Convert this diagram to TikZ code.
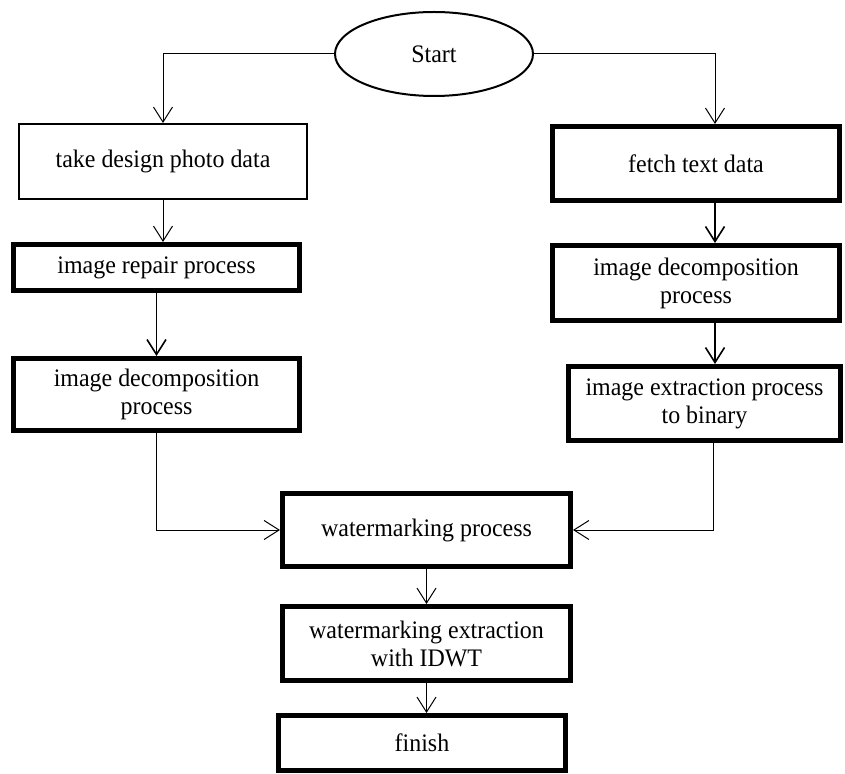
\documentclass[tikz,border=0pt]{standalone}
\usepackage{fontspec}
\setmainfont{Liberation Serif}[FakeStretch=0.95]
\usetikzlibrary{arrows.meta}
\usetikzlibrary{shapes.geometric}
\newcommand{\boxwd}{143.5pt}
\newcommand{\boxht}{37pt}
\newcommand{\thinrule}{0.5pt}
\newcommand{\midrule}{1pt}
\newcommand{\boldrule}{2.5pt}
\newcommand{\rightoff}{9.5pt}
\newcommand{\extoff}{4.5pt}
\newcommand{\flowfont}{\fontsize{12.6}{14}\selectfont}
\tikzset{
  flowbox/.style={draw, rectangle, minimum width=\boxwd, minimum height=\boxht,
    inner sep=0pt, align=center, font=\flowfont},
  thinbox/.style={flowbox, line width=\midrule},
  boldbox/.style={flowbox, line width=\boldrule},
  flowline/.style={draw, line width=\thinrule,
    -{Straight Barb[length=7.5pt,width=9.5pt]}},
}

\begin{document}
\begin{tikzpicture}[x=0.5pt, y=-0.5pt]
    \useasboundingbox (0,0) rectangle (845,774);
    % start
    \node (start) at (434,54) [draw, ellipse, line width=\midrule,
      minimum width=99pt, minimum height=42pt, inner sep=0pt,
      font=\flowfont] {Start};
    % left branch
    \node (photo) at (163,161.5) [thinbox, minimum width=144pt,
      minimum height=37.5pt] {take design photo data};
    \node (repair) at (156.5,267.5) [boldbox, minimum width=143pt,
      minimum height=23pt] {image repair process};
    \node (decompl) at (156.5,394.5) [boldbox, minimum width=143pt,
      minimum height=36pt] {image decomposition\\process};
    % right branch
    \node (fetch) at (696,163.5) [boldbox] {fetch text data};
    \node (decompr) at (696,283) [boldbox, minimum height=37.5pt]
      {image decomposition\\process};
    \node (extract) at (704.5,403.5) [boldbox, minimum width=136pt]
      {image extraction process\\to binary};
    % joined part
    \node (wmark) at (426.5,530) [boldbox, minimum width=144pt,
      minimum height=36.5pt] {watermarking process};
    \node (wmextract) at (426.5,643.5) [boldbox, minimum width=144pt]
      {watermarking extraction\\with IDWT};
    \node (finish) at (422,743) [boldbox, minimum height=27.5pt] {finish};

    % connectors
    \draw[flowline] (start.west) -| (photo.north);
    \draw[flowline] (start.east) -| ([xshift=\rightoff]fetch.north);
    \draw[flowline] (photo.south) -- (photo.south |- repair.north);
    \draw[flowline, line width=0.8pt] (repair.south) -- (decompl.north);
    \draw[flowline, line width=0.8pt] ([xshift=\rightoff]fetch.south)
      -- ([xshift=\rightoff]decompr.north);
    \draw[flowline, line width=0.8pt] ([xshift=\rightoff]decompr.south)
      -- ([xshift=\rightoff]decompr.south |- extract.north);
    \draw[flowline] (decompl.south) |- (wmark.west);
    \draw[flowline] ([xshift=\extoff]extract.south) |- (wmark.east);
    \draw[flowline] (wmark.south) -- (wmextract.north);
    \draw[flowline] (wmextract.south) -- (wmextract.south |- finish.north);
  \end{tikzpicture}
\end{document}
